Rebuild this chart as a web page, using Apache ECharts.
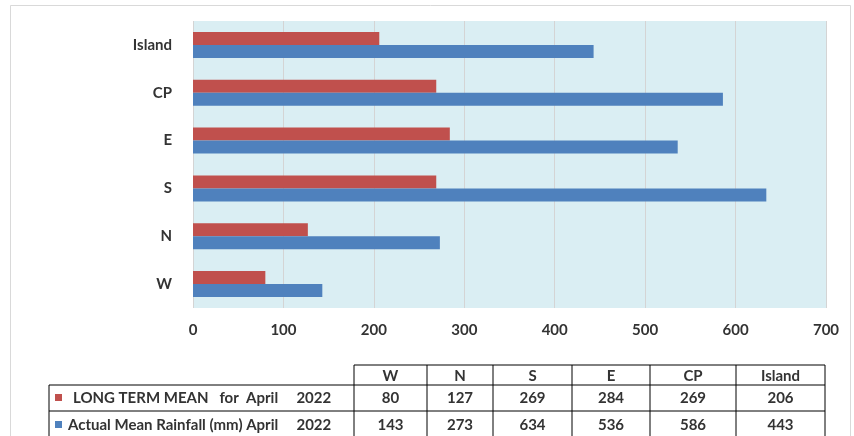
<!DOCTYPE html>
<html>
<head>
<meta charset="utf-8">
<script src="https://cdn.jsdelivr.net/npm/echarts@6/dist/echarts.min.js"></script>
<style>
  html, body { margin: 0; padding: 0; background: #fff; }
  #chart { width: 854px; height: 436px; }
</style>
</head>
<body>
<div id="chart"></div>
<script>
// regions, bottom to top on the chart
const regions = ['W', 'N', 'S', 'E', 'CP', 'Island'];
const longTermMean = [80, 127, 269, 284, 269, 206];
const actualRainfall = [143, 273, 634, 536, 586, 443];
const seriesNames = ['LONG TERM MEAN   for  April     2022', 'Actual Mean Rainfall (mm) April     2022'];

const RED = '#C0504D';
const BLUE = '#4F81BD';
const FONT = 'Lato';
const FS = 15;

// table layout (column edges)
const colEdges = [354, 427, 493, 572, 650, 736, 825];
const rowEdges = [365, 385, 411, 440];
const tableLeft = 49;

function buildTable() {
  const els = [];
  const line = (x1, y1, x2, y2) => els.push({
    type: 'line', shape: { x1, y1, x2, y2 },
    style: { stroke: '#000', lineWidth: 1 }
  });
  // horizontal lines
  line(colEdges[0], rowEdges[0], colEdges[6], rowEdges[0]);
  line(tableLeft, rowEdges[1], colEdges[6], rowEdges[1]);
  line(tableLeft, rowEdges[2], colEdges[6], rowEdges[2]);
  // vertical lines
  colEdges.forEach(x => line(x, rowEdges[0], x, rowEdges[3]));
  line(tableLeft, rowEdges[1], tableLeft, rowEdges[3]);

  const txt = (x, y, text, align) => els.push({
    type: 'text', x, y,
    style: { text, fill: '#333', font: 'bold ' + FS + 'px ' + FONT, align: align || 'center', verticalAlign: 'middle' }
  });
  const rows = [longTermMean, actualRainfall];
  const rowY = [398, 425];
  regions.forEach((r, i) => {
    const cx = (colEdges[i] + colEdges[i + 1]) / 2;
    txt(cx, 376, r);
    rows.forEach((vals, j) => txt(cx, rowY[j], String(vals[i])));
  });
  // legend keys + row labels
  [RED, BLUE].forEach((c, j) => {
    const cy = rowY[j];
    els.push({ type: 'rect', shape: { x: 55, y: cy - 4, width: 7, height: 7 }, style: { fill: c } });
    txt(j === 0 ? 73 : 68, cy, seriesNames[j], 'left');
  });
  // outer chart border
  els.push({
    type: 'rect', shape: { x: 10.5, y: 5.5, width: 840, height: 440 },
    style: { fill: 'none', stroke: '#D9D9D9', lineWidth: 1 }, z: -1
  });
  return els;
}

const chart = echarts.init(document.getElementById('chart'));
chart.setOption({
  animation: false,
  backgroundColor: '#fff',
  grid: {
    left: 193, right: 28, top: 21, bottom: 128,
    show: true, backgroundColor: '#DAEEF3', borderWidth: 0
  },
  xAxis: {
    type: 'value', min: 0, max: 700, interval: 100,
    axisLine: { show: false }, axisTick: { show: false },
    splitLine: { lineStyle: { color: '#D4D4D4', width: 1 } },
    axisLabel: { color: '#333', fontFamily: FONT, fontWeight: 'bold', fontSize: FS, margin: 15 }
  },
  yAxis: {
    type: 'category', data: regions,
    axisLine: { show: false }, axisTick: { show: false },
    axisLabel: { color: '#333', fontFamily: FONT, fontWeight: 'bold', fontSize: FS, margin: 21 }
  },
  series: [
    {
      name: seriesNames[0], type: 'bar', data: longTermMean,
      barWidth: 13, barGap: '0%',
      itemStyle: { color: RED }
    },
    {
      name: seriesNames[1], type: 'bar', data: actualRainfall,
      barWidth: 13, barGap: '0%',
      itemStyle: { color: BLUE }
    }
  ],
  graphic: buildTable()
});
</script>
</body>
</html>
